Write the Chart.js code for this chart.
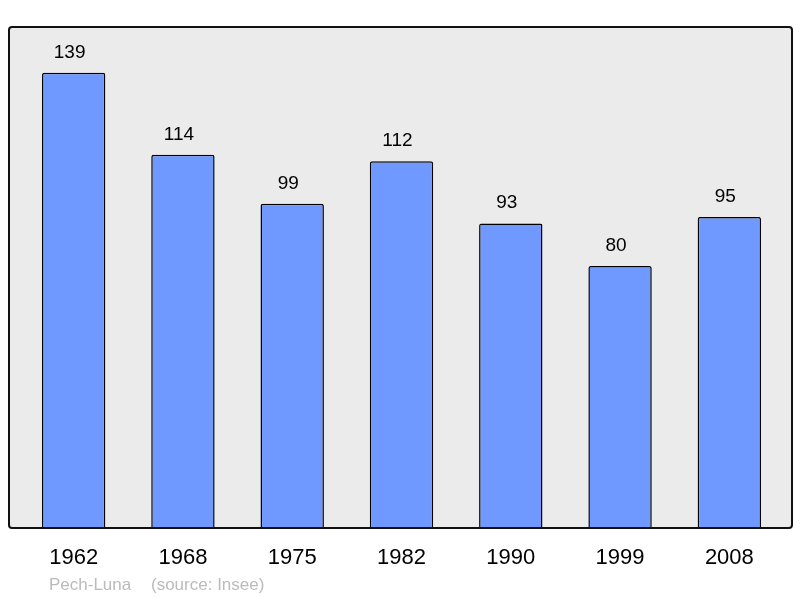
<!DOCTYPE html>
<html lang="fr">
<head>
<meta charset="UTF-8">
<title>Pech-Luna</title>
<style>
  html, body { margin: 0; padding: 0; background: #fff; }
  #wrap { width: 800px; height: 598px; }
</style>
<script src="https://cdn.jsdelivr.net/npm/chart.js"></script>
</head>
<body>
<div id="wrap"><canvas id="chart" width="800" height="598"></canvas></div>
<script>
  const years = ['1962', '1968', '1975', '1982', '1990', '1999', '2008'];
  const population = [139, 114, 99, 112, 93, 80, 95];
  const footerName = 'Pech-Luna';
  const footerSource = '(source: Insee)';

  // grey panel with black rounded border behind the bars
  const panel = {
    id: 'panel',
    beforeDatasetsDraw(chart) {
      const { ctx, chartArea: a } = chart;
      const x = a.left - 10, y = a.top, w = a.right + 8 - x, h = a.bottom - a.top;
      ctx.save();
      ctx.beginPath();
      ctx.roundRect(x, y, w, h, 3);
      ctx.fillStyle = '#ebebeb';
      ctx.fill();
      ctx.restore();
    },
    afterDatasetsDraw(chart) {
      const { ctx, chartArea: a } = chart;
      const x = a.left - 10, y = a.top, w = a.right + 8 - x, h = a.bottom - a.top;
      ctx.save();
      ctx.beginPath();
      ctx.roundRect(x, y, w, h, 3);
      ctx.lineWidth = 2;
      ctx.strokeStyle = '#111';
      ctx.stroke();
      ctx.restore();
    }
  };

  // value labels above bars, year labels below, footer
  const labels = {
    id: 'labels',
    afterDraw(chart) {
      const { ctx, chartArea: a } = chart;
      const meta = chart.getDatasetMeta(0);
      const xs = chart.scales.x;
      ctx.save();
      ctx.textAlign = 'center';
      ctx.textBaseline = 'alphabetic';
      ctx.fillStyle = '#000';
      ctx.font = '19px "Liberation Sans", Arial, sans-serif';
      meta.data.forEach((bar, i) => {
        ctx.fillText(String(population[i]), bar.x - 4, bar.y - 15);
      });
      ctx.font = '22px "Liberation Sans", Arial, sans-serif';
      years.forEach((y, i) => {
        ctx.fillText(y, xs.getPixelForValue(i), a.bottom + 36);
      });
      ctx.textAlign = 'left';
      ctx.fillStyle = '#bbbbbb';
      ctx.font = '17px "Liberation Sans", Arial, sans-serif';
      ctx.fillText(footerName, 49, 590);
      ctx.fillText(footerSource, 151, 590);
      ctx.restore();
    }
  };

  new Chart(document.getElementById('chart'), {
    type: 'bar',
    data: {
      labels: years,
      datasets: [{
        data: population,
        backgroundColor: '#7099ff',
        borderColor: '#000',
        borderWidth: 1.5,
        borderSkipped: 'bottom',
        borderRadius: { topLeft: 2, topRight: 2 },
        barPercentage: 0.58,
        categoryPercentage: 1
      }]
    },
    options: {
      responsive: false,
      animation: false,
      layout: { padding: { left: 19, right: 16, top: 27, bottom: 70 } },
      plugins: { legend: { display: false }, tooltip: { enabled: false } },
      scales: {
        x: { display: false, offset: true },
        y: { display: false, min: 0, max: 153 }
      }
    },
    plugins: [panel, labels]
  });
</script>
</body>
</html>
